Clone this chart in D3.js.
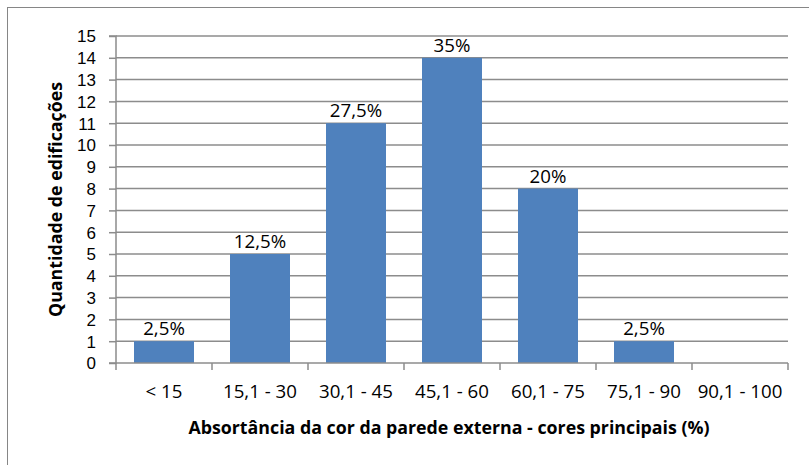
<!DOCTYPE html>
<html>
<head>
<meta charset="utf-8">
<script src="https://cdn.jsdelivr.net/npm/d3@7"></script>
<style>
  body { margin: 0; background: #fff; }
  svg text { font-family: "Open Sans", "Liberation Sans", sans-serif; fill: #000; }
</style>
</head>
<body>
<div id="chart"></div>
<script>
// Data
const categories = ['< 15', '15,1 - 30', '30,1 - 45', '45,1 - 60', '60,1 - 75', '75,1 - 90', '90,1 - 100'];
const counts = [1, 5, 11, 14, 8, 1, 0];
const percentLabels = ['2,5%', '12,5%', '27,5%', '35%', '20%', '2,5%', ''];
const yTicks = d3.range(0, 16);

// Margin convention
const W = 809, H = 465;
const margin = { top: 36, right: 21, bottom: 102, left: 116 };
const width = W - margin.left - margin.right;
const height = H - margin.top - margin.bottom;
const fontSize = '18.7px';
const titleSize = '17.8px';

const svg = d3.select('#chart')
  .append('svg')
  .attr('width', W)
  .attr('height', H);

// chart border
svg.append('rect')
  .attr('x', 7.5).attr('y', 7.5)
  .attr('width', W).attr('height', H)
  .attr('fill', 'none')
  .attr('stroke', '#868686')
  .attr('stroke-width', 1);

const g = svg.append('g')
  .attr('transform', 'translate(' + margin.left + ',' + margin.top + ')');

const xScale = d3.scaleBand()
  .domain(categories)
  .range([0, width])
  .paddingInner(0.375)
  .paddingOuter(0.1875);

const yScale = d3.scaleLinear()
  .domain([0, 15])
  .range([height, 0]);

// gridlines
g.append('g')
  .selectAll('line')
  .data(yTicks.filter(d => d > 0))
  .enter()
  .append('line')
  .attr('x1', 0)
  .attr('x2', width)
  .attr('y1', d => yScale(d))
  .attr('y2', d => yScale(d))
  .attr('stroke', '#8c8c8c')
  .attr('stroke-width', 1.5);

// y axis (tighter font so the 16 labels fit the 21.8px step)
const yAxis = d3.axisLeft(yScale).tickValues(yTicks).tickSize(7).tickPadding(13);
const yAxisDraw = g.append('g').call(yAxis);
yAxisDraw.select('.domain').attr('stroke', '#8c8c8c').attr('stroke-width', 1.5)
  .attr('d', 'M-7,' + height + 'H0V0H-7');
yAxisDraw.selectAll('.tick line').attr('stroke', '#8c8c8c').attr('stroke-width', 1.5);
yAxisDraw.selectAll('text')
  .style('font-family', '"Liberation Sans", sans-serif')
  .style('font-size', '17px')
  .attr('dy', '0.35em');

// bars
g.selectAll('.bar')
  .data(counts)
  .enter()
  .append('rect')
  .attr('class', 'bar')
  .attr('x', (d, i) => xScale(categories[i]))
  .attr('y', d => yScale(d))
  .attr('width', xScale.bandwidth())
  .attr('height', d => height - yScale(d))
  .attr('fill', '#4f81bd');

// x axis
const step = xScale.step();
const boundaries = d3.range(0, categories.length + 1).map(i => i * step);
const xAxisG = g.append('g').attr('transform', 'translate(0,' + height + ')');
xAxisG.append('line')
  .attr('x1', 0).attr('x2', width)
  .attr('stroke', '#8c8c8c').attr('stroke-width', 1.5);
xAxisG.selectAll('.xtick')
  .data(boundaries)
  .enter()
  .append('line')
  .attr('x1', d => d).attr('x2', d => d)
  .attr('y1', 0).attr('y2', 7)
  .attr('stroke', '#8c8c8c').attr('stroke-width', 1.5);
xAxisG.selectAll('.xlabel')
  .data(categories)
  .enter()
  .append('text')
  .attr('x', d => xScale(d) + xScale.bandwidth() / 2)
  .attr('y', 35)
  .attr('text-anchor', 'middle')
  .style('font-size', fontSize)
  .text(d => d);

// data labels
g.selectAll('.pct')
  .data(counts)
  .enter()
  .append('text')
  .attr('x', (d, i) => xScale(categories[i]) + xScale.bandwidth() / 2)
  .attr('y', d => yScale(d) - 6)
  .attr('text-anchor', 'middle')
  .style('font-size', fontSize)
  .text((d, i) => percentLabels[i]);

// axis titles
svg.append('text')
  .attr('x', margin.left + width / 2 - 3)
  .attr('y', 434)
  .attr('text-anchor', 'middle')
  .style('font-size', titleSize)
  .style('font-weight', 'bold')
  .text('Absortância da cor da parede externa - cores principais (%)');

svg.append('text')
  .attr('transform', 'translate(62,' + (margin.top + height / 2) + ') rotate(-90)')
  .attr('text-anchor', 'middle')
  .style('font-size', titleSize)
  .style('font-weight', 'bold')
  .text('Quantidade de edificações');
</script>
</body>
</html>
